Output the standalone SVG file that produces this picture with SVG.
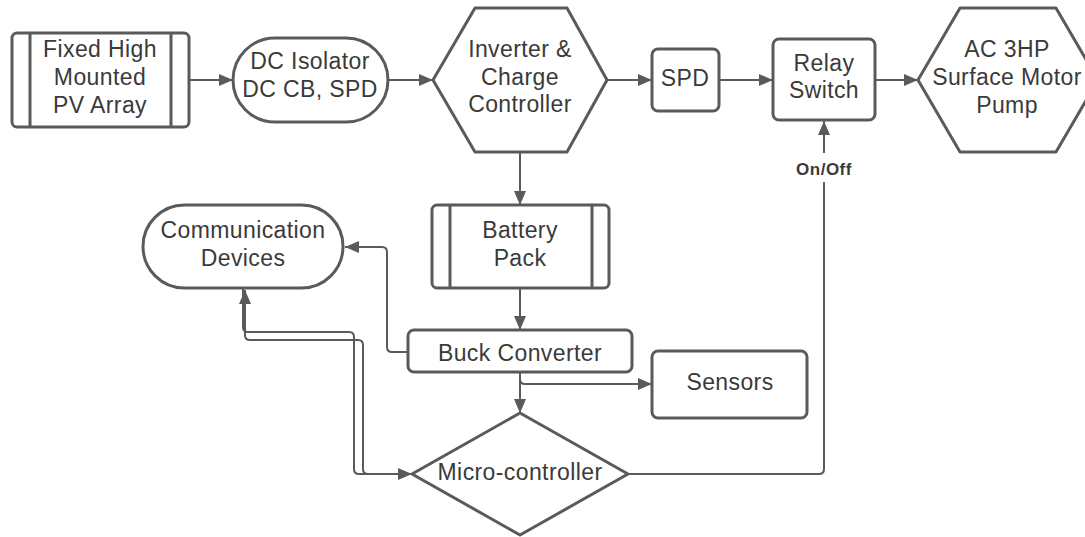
<svg xmlns="http://www.w3.org/2000/svg" width="1085" height="537" viewBox="0 0 1085 537">
<style>
.s{fill:#fff;stroke:#5a5a5a;stroke-width:3;stroke-linejoin:round}
.l{fill:none;stroke:#5a5a5a;stroke-width:2}
.t{font-family:"Liberation Sans",Arial,sans-serif;font-size:23px;fill:#3a3a3a;text-anchor:middle;letter-spacing:0.4px}
.b{font-family:"Liberation Sans",Arial,sans-serif;font-size:17px;font-weight:bold;fill:#3a3a3a;text-anchor:middle;letter-spacing:0.5px}
</style>
<defs>
<marker id="a" markerUnits="userSpaceOnUse" markerWidth="15" markerHeight="12" refX="14" refY="6" orient="auto">
<path d="M0,0 L14,6 L0,12 z" fill="#5a5a5a"/>
</marker>
</defs>
<rect width="1085" height="537" fill="#fff"/>
<g id="connectors">
<path class="l" marker-end="url(#a)" d="M189,80 H233"/>
<path class="l" marker-end="url(#a)" d="M388,80 H433"/>
<path class="l" marker-end="url(#a)" d="M607,80 H652"/>
<path class="l" marker-end="url(#a)" d="M719,80 H773"/>
<path class="l" marker-end="url(#a)" d="M875,80 H918"/>
<path class="l" marker-end="url(#a)" d="M520,152 V205"/>
<path class="l" marker-end="url(#a)" d="M520,288 V330"/>
<path class="l" marker-end="url(#a)" d="M408,352 H392 Q387,352 387,347 V252 Q387,247 382,247 H345"/>
<path class="l" marker-end="url(#a)" d="M520,372 V413"/>
<path class="l" marker-end="url(#a)" d="M520,374 V379 Q520,384 525,384 H652"/>
<path class="l" marker-end="url(#a)" d="M628,474 H819 Q824,474 824,469 V121"/>
<path class="l" marker-end="url(#a)" d="M243,289 V327 Q243,332 248,332 H349 Q354,332 354,337 V469 Q354,474 359,474 H412"/>
<path class="l" marker-end="url(#a)" d="M412,474 H368 Q363,474 363,469 V345 Q363,340 358,340 H250 Q245,340 245,335 V290"/>
<rect x="789" y="153" width="70" height="29" fill="#fff"/>
<text class="b" x="824" y="175">On/Off</text>
</g>
<g id="pv">
<rect class="s" x="12" y="33" width="177" height="94" rx="5"/>
<path class="s" d="M30,33 V127 M171,33 V127"/>
<text class="t" x="100" y="57">Fixed High</text>
<text class="t" x="100" y="85">Mounted</text>
<text class="t" x="100" y="113">PV Array</text>
</g>
<g id="dciso">
<rect class="s" x="233" y="38" width="155" height="84" rx="42"/>
<text class="t" x="310" y="69">DC Isolator</text>
<text class="t" x="310" y="97">DC CB, SPD</text>
</g>
<g id="inverter">
<polygon class="s" points="433,80 475,8 567,8 607,80 567,152 475,152"/>
<text class="t" x="520" y="57">Inverter &amp;</text>
<text class="t" x="520" y="85">Charge</text>
<text class="t" x="520" y="112">Controller</text>
</g>
<g id="spd">
<rect class="s" x="652" y="49" width="67" height="62" rx="6"/>
<text class="t" x="685" y="86">SPD</text>
</g>
<g id="relay">
<rect class="s" x="773" y="39" width="102" height="81" rx="6"/>
<text class="t" x="824" y="71">Relay</text>
<text class="t" x="824" y="98">Switch</text>
</g>
<g id="pump">
<polygon class="s" points="918,80 960,8 1056,8 1098,80 1056,152 960,152"/>
<text class="t" x="1007" y="57">AC 3HP</text>
<text class="t" x="1007" y="85">Surface Motor</text>
<text class="t" x="1007" y="113">Pump</text>
</g>
<g id="comm">
<rect class="s" x="143" y="205" width="200" height="83" rx="41.5"/>
<text class="t" x="243" y="238">Communication</text>
<text class="t" x="243" y="266">Devices</text>
</g>
<g id="battery">
<rect class="s" x="432" y="205" width="177" height="83" rx="5"/>
<path class="s" d="M450,205 V288 M592,205 V288"/>
<text class="t" x="520" y="238">Battery</text>
<text class="t" x="520" y="266">Pack</text>
</g>
<g id="buck">
<rect class="s" x="408" y="330" width="224" height="42" rx="6"/>
<text class="t" x="520" y="361">Buck Converter</text>
</g>
<g id="sensors">
<rect class="s" x="652" y="351" width="155" height="67" rx="6"/>
<text class="t" x="730" y="390">Sensors</text>
</g>
<g id="micro">
<polygon class="s" points="520,413 628,474 520,535 412,474"/>
<text class="t" x="520" y="480">Micro-controller</text>
</g>
</svg>
